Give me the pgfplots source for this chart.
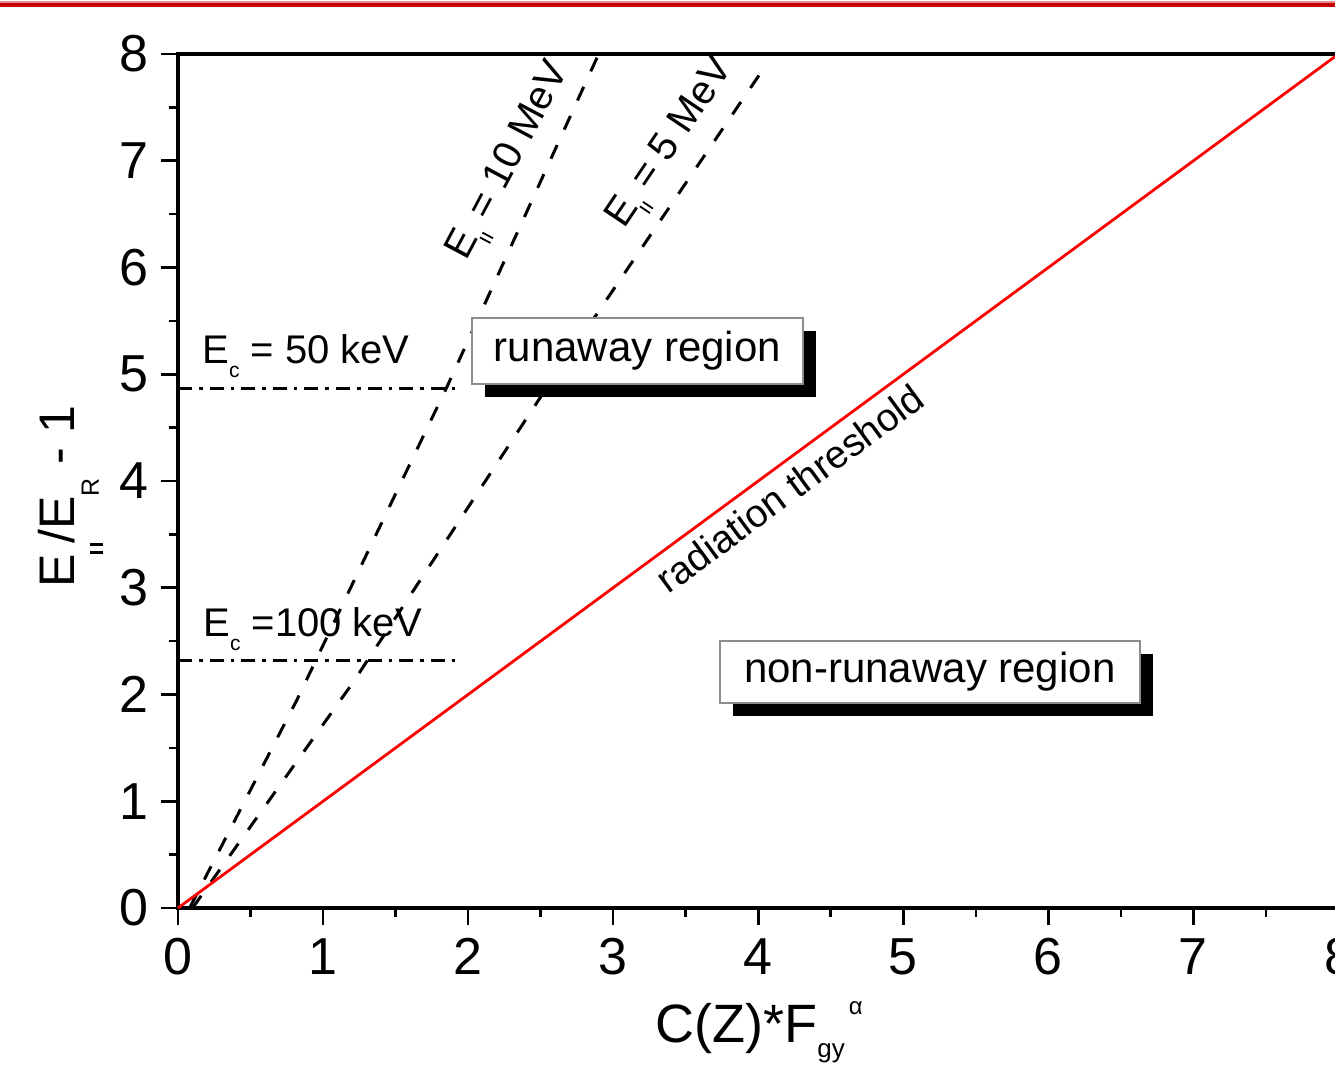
\documentclass[border=0pt]{standalone}
\usepackage{pgfplots}
\pgfplotsset{compat=1.18}
\usepackage{fontspec}
\setmainfont{Liberation Sans}
\usetikzlibrary{shadows}
\definecolor{hdr}{RGB}{196,0,0}
\definecolor{boxgray}{RGB}{140,140,140}
\newcommand{\subc}{\raisebox{-7pt}{\fontsize{10.5}{10.5}\selectfont c}}
\newcommand{\subpar}{\raisebox{-6pt}{\rule{0.9pt}{6pt}\hspace{1.8pt}\rule{0.9pt}{6pt}}}
\begin{document}
\begin{tikzpicture}
\begin{axis}[
  at={(0pt,0pt)}, anchor=south west,
  scale only axis, width=580.25pt, height=427pt,
  xmin=0, xmax=8, ymin=0, ymax=8,
  xtick={0,...,8}, ytick={0,...,8},
  minor tick num=1,
  tick pos=left, tick align=outside,
  major tick length=8.5pt, minor tick length=4.5pt,
  tick style={black, line width=1.3pt},
  axis line style={line width=1.6pt},
  /pgf/number format/assume math mode=true,
  ticklabel style={font=\fontsize{26}{30}\selectfont},
  xticklabel style={inner sep=0pt, yshift=-6.5pt},
  yticklabel style={inner sep=0pt, xshift=-6pt},
  clip=false,
]
\addplot[black, line width=1.5pt, dash pattern=on 7.5pt off 8.5pt] coordinates {(0.08,0) (0.82,1.95) (1.44,3.71) (1.85,4.87) (2.9,8)};
\addplot[black, line width=1.5pt, dash pattern=on 7.5pt off 8.5pt] coordinates {(0.1,0) (1.2,2.1) (2.54,4.87) (4.03,7.85)};
\addplot[black, line width=1.5pt, dash pattern=on 7pt off 3.5pt on 1.8pt off 3.5pt] coordinates {(0,4.871) (1.91,4.871)};
\addplot[black, line width=1.5pt, dash pattern=on 7pt off 3.5pt on 1.8pt off 3.5pt] coordinates {(0,2.323) (1.91,2.323)};
\addplot[red, line width=1.4pt] coordinates {(0,0) (8,8)};

\node[anchor=base west, inner sep=0pt, font=\fontsize{20}{24}\selectfont] at (axis cs:0.165,5.105) {E\subc{} = 50 keV};
\node[anchor=base west, inner sep=0pt, font=\fontsize{20}{24}\selectfont] at (axis cs:0.172,2.539) {E\subc{} =100 keV};

\node[rotate=62, inner sep=0pt, font=\fontsize{20}{24}\selectfont] at (axis cs:2.295,6.988) {E\subpar{} = 10 MeV};
\node[rotate=56, inner sep=0pt, font=\fontsize{20}{24}\selectfont] at (axis cs:3.41,7.157) {E\subpar{} = 5 MeV};
\node[rotate=36.3, inner sep=0pt, font=\fontsize{19.5}{24}\selectfont] at (axis cs:4.218,3.930) {radiation threshold};

\node[draw=boxgray, line width=1pt, fill=white, minimum width=165.5pt, minimum height=33pt, inner sep=0pt,
  drop shadow={shadow xshift=6.5pt, shadow yshift=-6.5pt, fill=black, opacity=1},
  font=\fontsize{21}{25}\selectfont] at (axis cs:3.167,5.218) {runaway region};
\node[draw=boxgray, line width=1pt, fill=white, minimum width=210pt, minimum height=31pt, inner sep=0pt,
  drop shadow={shadow xshift=6.5pt, shadow yshift=-6.5pt, fill=black, opacity=1},
  font=\fontsize{21}{25}\selectfont] at (axis cs:5.183,2.211) {non-runaway region};
\end{axis}
% x label
\node[anchor=base, inner sep=0pt, font=\fontsize{27}{32}\selectfont] at (290.5pt,-67.5pt)
  {C(Z)*F\raisebox{-7.5pt}{\fontsize{13}{13}\selectfont gy}\hspace{2pt}\raisebox{14pt}{\fontsize{12}{12}\selectfont α}};
% y label
\node[rotate=90, anchor=base, inner sep=0pt, font=\fontsize{25}{30}\selectfont] at (-51.5pt,205.8pt)
  {E\raisebox{-14pt}{\rule{1.2pt}{6.5pt}\hspace{2.8pt}\rule{1.2pt}{6.5pt}}/E\raisebox{-12pt}{\fontsize{12.5}{12.5}\selectfont R} - 1};
% header band
\fill[hdr!45] (-89pt,452.6pt) rectangle (578.5pt,453.3pt);
\fill[hdr] (-89pt,450.3pt) rectangle (578.5pt,452.6pt);
\pgfresetboundingbox
\useasboundingbox (-89pt,-81.5pt) rectangle (578.5pt,454pt);
\end{tikzpicture}
\end{document}
